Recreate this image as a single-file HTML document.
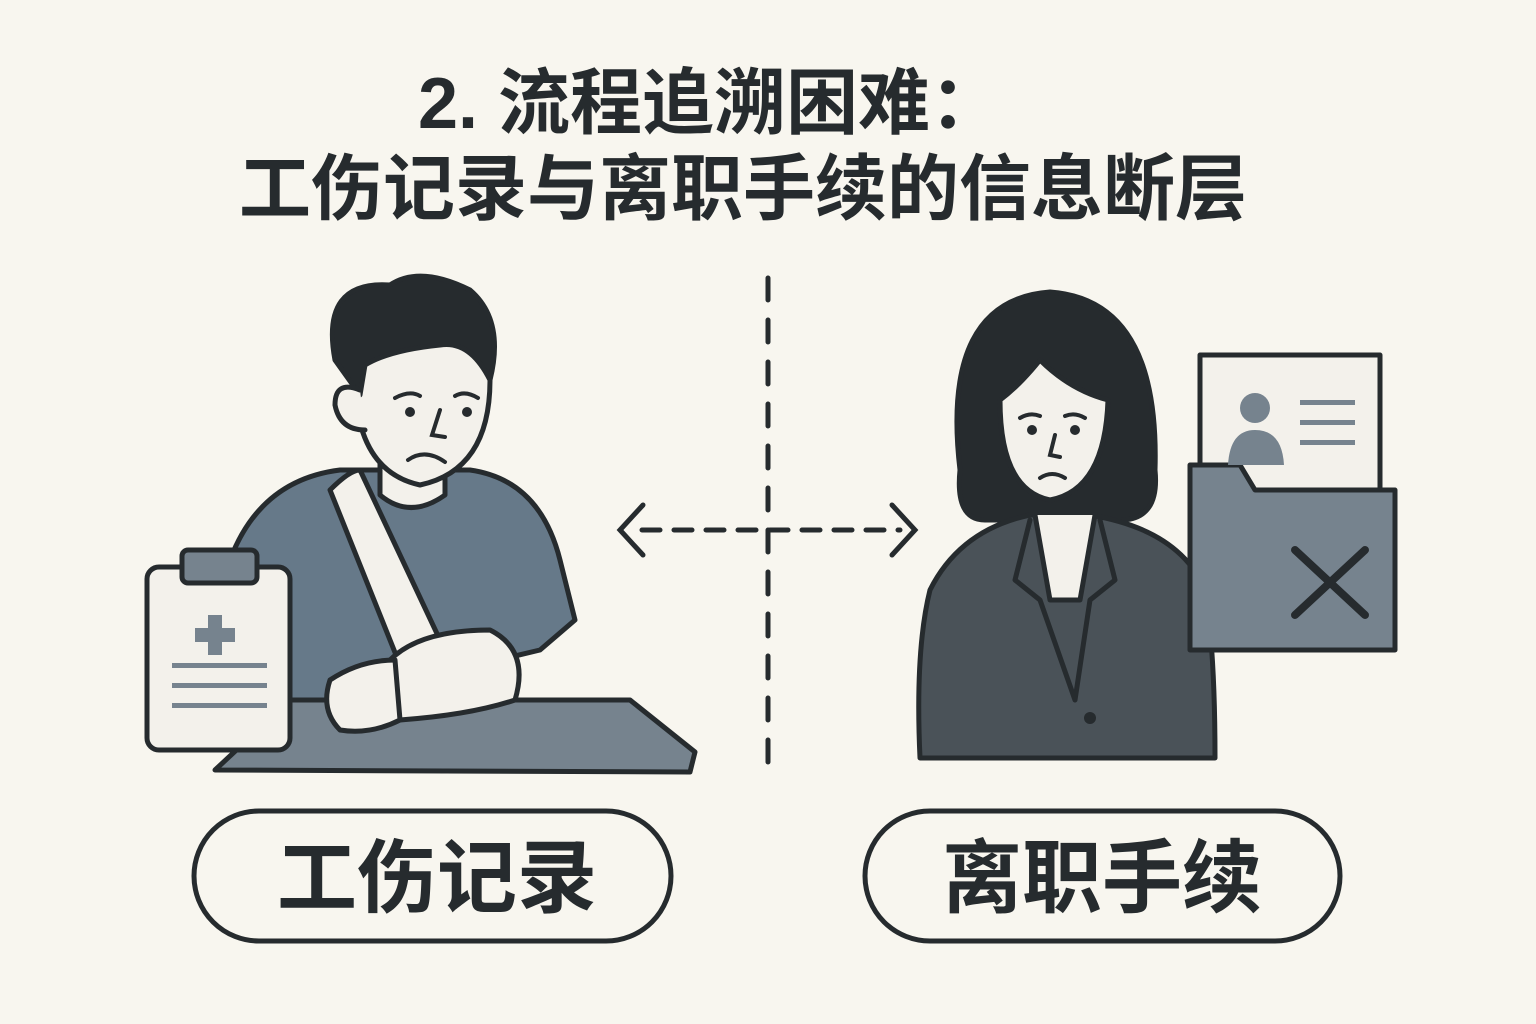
<!DOCTYPE html>
<html><head><meta charset="utf-8"><style>
html,body{margin:0;padding:0;background:#f8f6ef;}
svg{display:block}
</style></head><body>
<svg width="1536" height="1024" viewBox="0 0 1536 1024" xmlns="http://www.w3.org/2000/svg">
<rect width="1536" height="1024" fill="#f8f6ef"/>
<g font-family="Liberation Sans, Noto Sans CJK SC, sans-serif" font-weight="bold" fill="#262b2e" text-anchor="middle">
<text x="710" y="128" font-size="72">2. 流程追溯困难：</text>
<text x="743" y="214" font-size="72">工伤记录与离职手续的信息断层</text>
</g>
<g stroke="#262b2e" stroke-width="5" stroke-linecap="round" fill="none">
<line x1="768" y1="278" x2="768" y2="770" stroke-dasharray="22 20"/>
<line x1="642" y1="530" x2="900" y2="530" stroke-dasharray="18 14"/>
<polyline points="643,505 620,530 643,555"/>
<polyline points="892,505 915,530 892,555"/>
</g>
<g stroke="#262b2e" stroke-width="5" stroke-linejoin="round" stroke-linecap="round">
<polygon points="215,770 290,700 630,700 695,752 690,772" fill="#76838e"/>
<path d="M230,560 Q260,480 340,470 L470,470 Q540,480 560,560 L575,620 L540,650 L330,700 L270,700 Z" fill="#667989"/>
<path d="M380,440 L380,495 Q410,520 445,495 L445,440 Z" fill="#f3f1eb"/>
<path d="M355,360 Q350,470 420,485 Q490,470 490,380 L485,340 Q440,340 360,360 Z" fill="#f3f1eb"/>
<path d="M335,360 Q320,280 390,285 Q420,265 470,290 Q505,320 490,380 Q470,340 440,345 Q390,350 365,365 L360,395 Z" fill="#262b2e"/>
<path d="M360,390 Q335,380 335,405 Q340,430 365,430" fill="#f3f1eb"/>
<path d="M330,490 Q350,470 360,470 L440,640 L400,665 Z" fill="#f3f1eb"/>
<path d="M390,660 Q420,630 490,630 Q530,650 515,700 Q470,715 400,720 Z" fill="#f3f1eb"/>
<path d="M330,680 Q360,660 395,660 L400,720 Q370,735 340,730 Q320,710 330,680 Z" fill="#f3f1eb"/>
<rect x="147" y="567" width="143" height="183" rx="12" fill="#f3f1eb"/>
<rect x="182" y="550" width="75" height="33" rx="6" fill="#76838e"/>
<path d="M960,470 Q940,300 1050,292 Q1160,300 1155,470 Q1160,520 1120,520 L985,520 Q955,520 960,470 Z" fill="#262b2e"/>
<path d="M930,590 Q960,530 1030,515 L1090,515 Q1180,530 1205,590 Q1215,650 1215,758 L920,758 Q915,650 930,590 Z" fill="#4a5258"/>
<path d="M1035,515 L1050,600 L1080,600 L1095,515" fill="#f3f1eb"/>
<path d="M1000,400 Q1000,490 1050,500 Q1105,490 1108,400 Q1070,390 1040,360 Q1020,385 1000,400 Z" fill="#f3f1eb"/>
<path d="M1030,520 L1015,580 L1040,600 L1075,700 M1100,520 L1115,580 L1090,600 L1075,700" fill="none"/>
<rect x="1200" y="355" width="180" height="180" fill="#f3f1eb"/>
<path d="M1190,465 L1240,465 L1255,490 L1395,490 L1395,650 L1190,650 Z" fill="#76838e"/>
<path d="M1295,550 L1365,615 M1365,550 L1295,615" stroke-width="8"/>
</g>
<g stroke="#262b2e" stroke-width="4" stroke-linecap="round" fill="none">
<path d="M395,398 Q410,390 420,396 M455,396 Q465,390 478,398"/>
<path d="M440,410 L432,435 L445,437"/>
<path d="M408,460 Q425,448 445,462"/>
<path d="M1020,418 Q1030,412 1040,416 M1065,416 Q1075,412 1085,418"/>
<path d="M1055,435 L1050,455 L1060,457"/>
<path d="M1040,478 Q1052,470 1065,478"/>
</g>
<g fill="#262b2e"><circle cx="410" cy="412" r="5"/><circle cx="467" cy="412" r="5"/><circle cx="1032" cy="430" r="5"/><circle cx="1075" cy="430" r="5"/><circle cx="1090" cy="718" r="6"/></g>
<g fill="#76838e"><rect x="208" y="615" width="14" height="40"/><rect x="195" y="628" width="40" height="14"/>
<rect x="172" y="663" width="95" height="5"/><rect x="172" y="683" width="95" height="5"/><rect x="172" y="703" width="95" height="5"/>
<circle cx="1255" cy="408" r="15"/><path d="M1228,465 Q1230,430 1255,430 Q1282,430 1284,465 Z"/>
<rect x="1300" y="400" width="55" height="5"/><rect x="1300" y="420" width="55" height="5"/><rect x="1300" y="440" width="55" height="5"/></g>
<g stroke="#262b2e" stroke-width="5" fill="none">
<rect x="194" y="811" width="477" height="130" rx="65"/>
<rect x="865" y="811" width="475" height="130" rx="65"/>
</g>
<g font-family="Liberation Sans, Noto Sans CJK SC, sans-serif" font-weight="bold" fill="#262b2e" text-anchor="middle" font-size="80">
<text x="437" y="906">工伤记录</text>
<text x="1102" y="906">离职手续</text>
</g>
</svg>
</body></html>
